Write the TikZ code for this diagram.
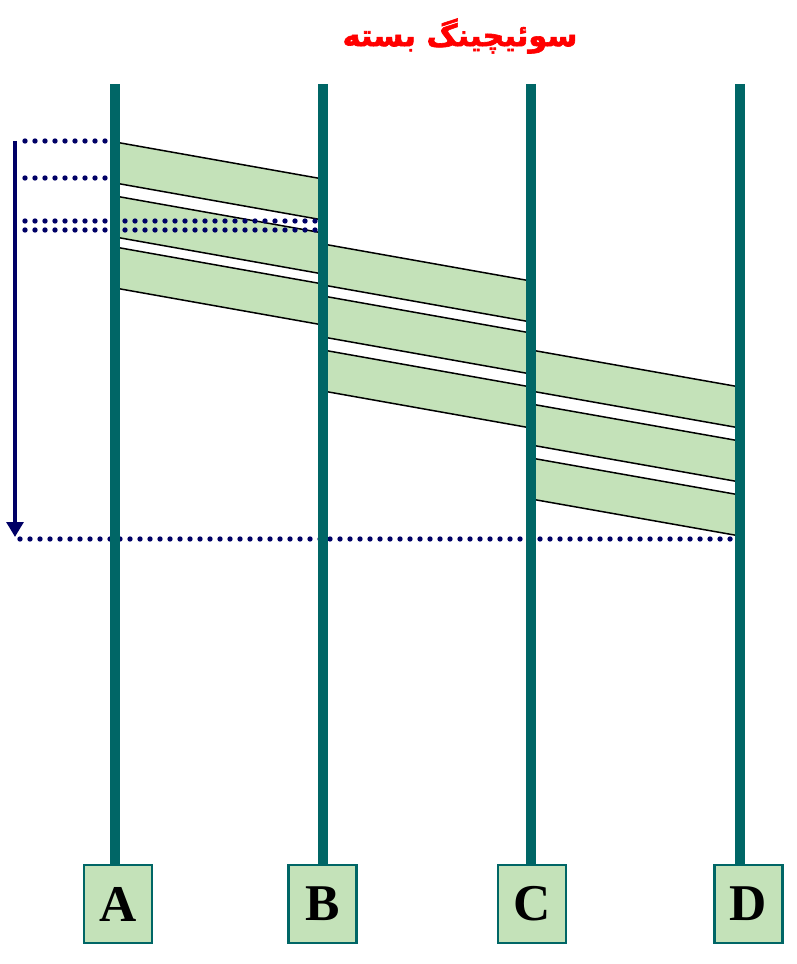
\documentclass[tikz,border=0pt]{standalone}
\usepackage{fontspec}
\setmainfont{Liberation Serif}
\newfontfamily\persianfont[Script=Arabic, BoldFeatures={FakeBold=2}]{DejaVu Sans}
\TeXXeTstate=1
\usetikzlibrary{arrows.meta}

\definecolor{wireteal}{RGB}{0,102,102}
\definecolor{packetgreen}{RGB}{196,226,185}
\definecolor{guidenavy}{RGB}{0,0,102}

\tikzset{
    station/.style={draw=wireteal, line width=0.07cm, fill=packetgreen,
        minimum width=2.04cm, minimum height=2.34cm, inner sep=0pt,
        font=\fontsize{44}{44}\selectfont\bfseries},
    wire/.style={wireteal, line width=0.3cm},
    packet/.style={fill=packetgreen, draw=black, line width=0.045cm},
    guide/.style={guidenavy, line width=0.16cm, line cap=round, dash pattern=on 0pt off 0.3cm},
    timeline/.style={guidenavy, line width=0.13cm, -{Triangle[width=0.5cm, length=0.45cm]}}
}

\begin{document}
\begin{tikzpicture}[x=0.03cm, y=-0.03cm]
        \useasboundingbox (0, 0) rectangle (797, 964);

        \node [text=red, font=\persianfont\fontsize{26}{26}\selectfont\bfseries] (title) at (460, 36) {\beginR سوئیچینگ بسته\endR};

        % packets A -> B
        \filldraw [packet] (115, 142) -- (323, 179) -- (323, 220) -- (115, 183) -- cycle;
        \filldraw [packet] (115, 196) -- (323, 233) -- (323, 274) -- (115, 237) -- cycle;
        \filldraw [packet] (115, 247) -- (323, 284) -- (323, 325) -- (115, 288) -- cycle;

        % packets B -> C
        \filldraw [packet] (323, 244) -- (531, 281) -- (531, 322) -- (323, 285) -- cycle;
        \filldraw [packet] (323, 296) -- (531, 333) -- (531, 374) -- (323, 337) -- cycle;
        \filldraw [packet] (323, 350) -- (531, 387) -- (531, 428) -- (323, 391) -- cycle;

        % packets C -> D
        \filldraw [packet] (531, 350) -- (740, 387) -- (740, 428) -- (531, 391) -- cycle;
        \filldraw [packet] (531, 404) -- (740, 441) -- (740, 482) -- (531, 445) -- cycle;
        \filldraw [packet] (531, 458) -- (740, 495) -- (740, 536) -- (531, 499) -- cycle;

        % time axis
        \coordinate (start) at (15, 141);
        \coordinate (stop) at (15, 537);
        \draw [timeline] (start) -- (stop);

        \draw [guide] (25, 141) -- (110, 141);
        \draw [guide] (25, 178) -- (110, 178);
        \draw [guide] (25, 221) -- (318, 221);
        \draw [guide] (25, 230) -- (318, 230);
        \draw [guide] (20, 539) -- (735, 539);

        \node [station] (A) at (118, 904) {A};
        \node [station] (B) at (322.5, 904) {B};
        \node [station] (C) at (532, 904) {C};
        \node [station] (D) at (748.5, 904) {D};

        \coordinate (topA) at (115, 84);
        \coordinate (topB) at (323, 84);
        \coordinate (topC) at (531, 84);
        \coordinate (topD) at (740, 84);

        \draw [wire] (topA) -- (topA |- A.north);
        \draw [wire] (topB) -- (topB |- B.north);
        \draw [wire] (topC) -- (topC |- C.north);
        \draw [wire] (topD) -- (topD |- D.north);

    \end{tikzpicture}
\end{document}
